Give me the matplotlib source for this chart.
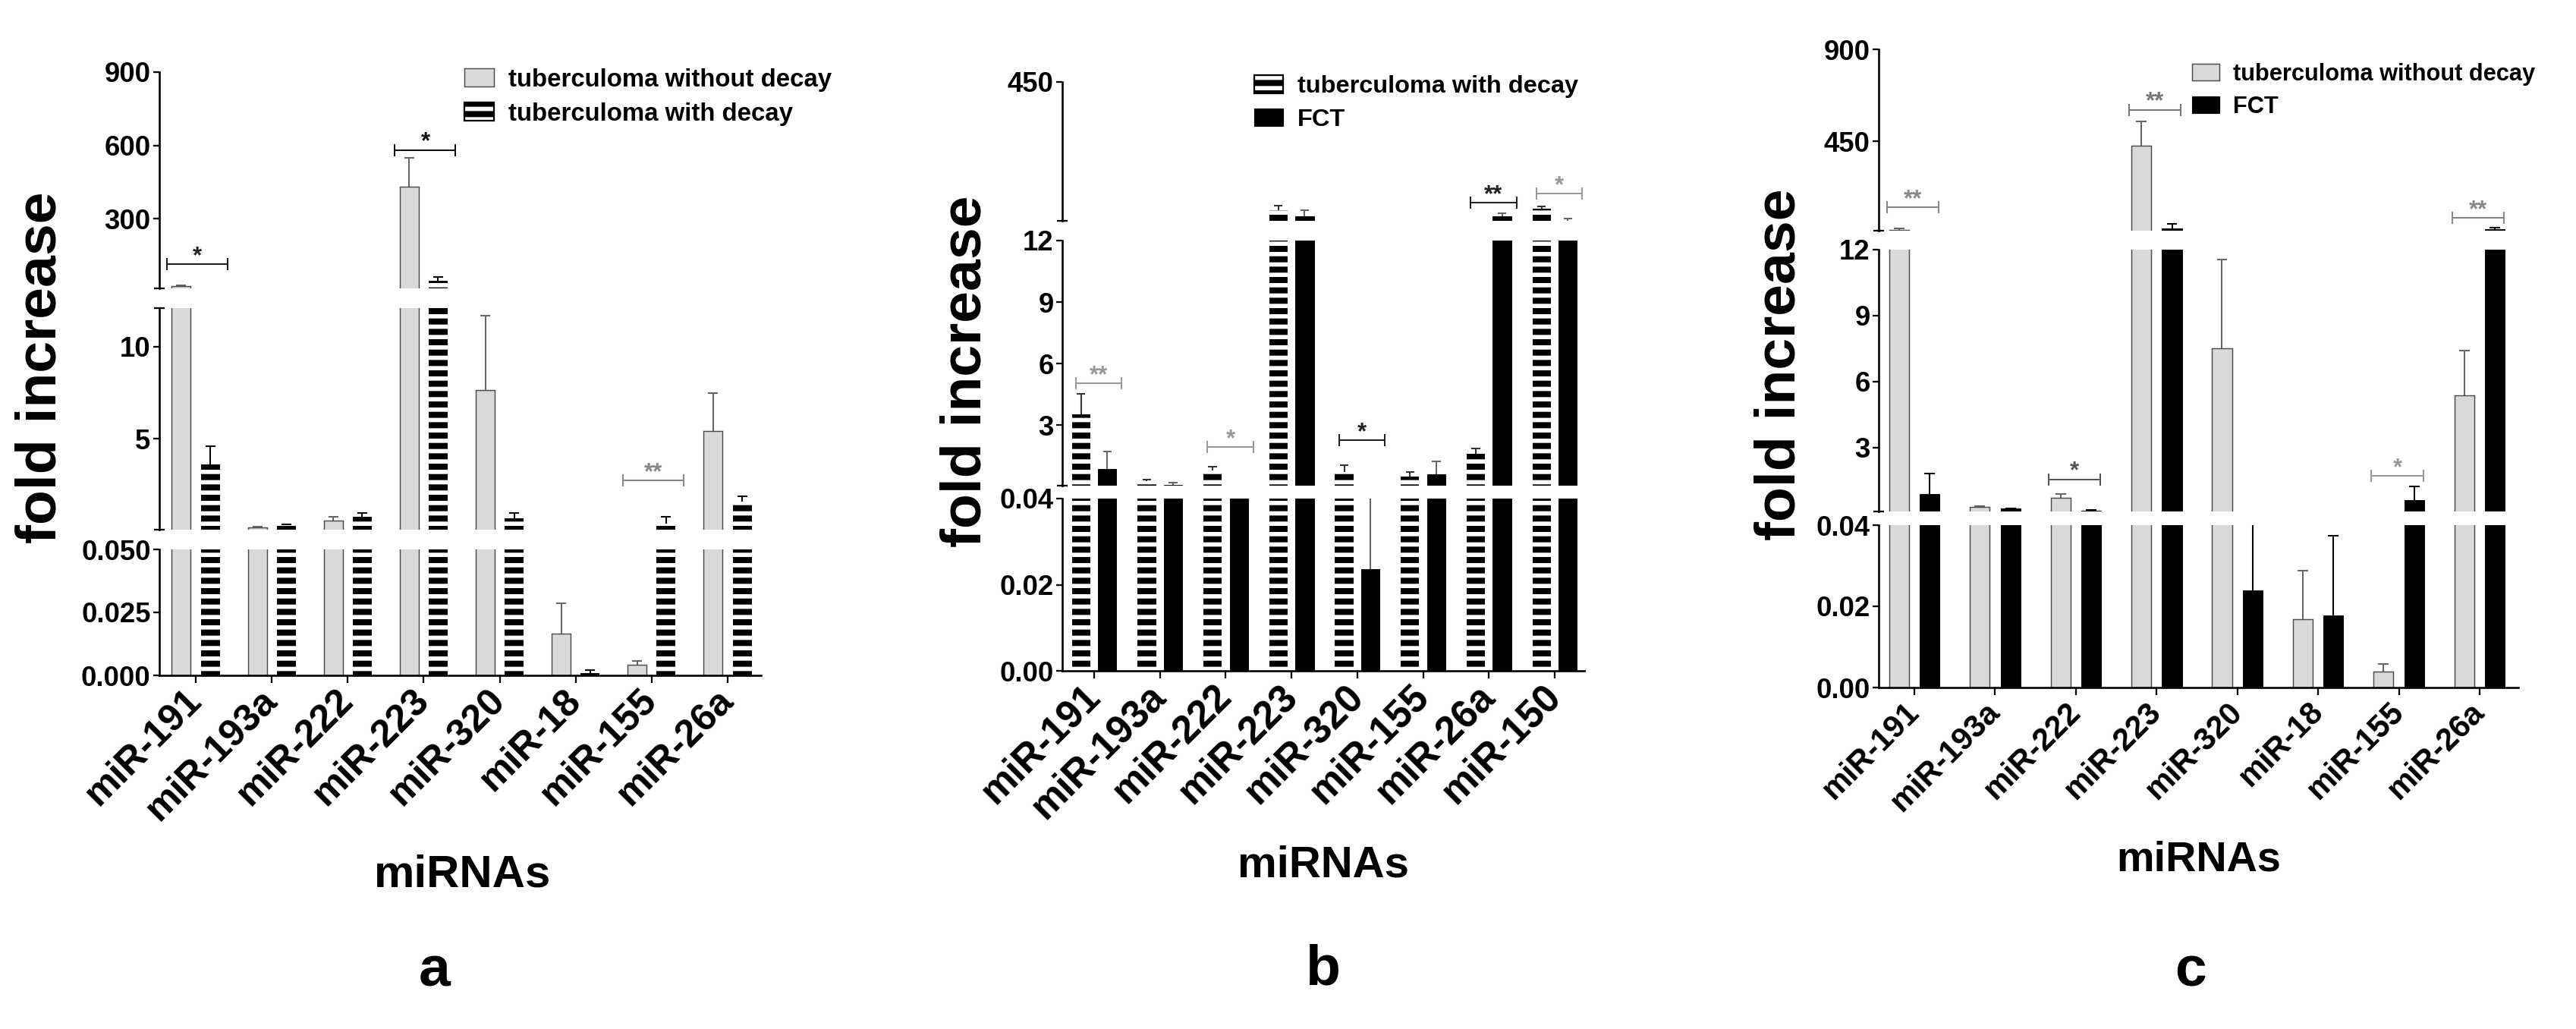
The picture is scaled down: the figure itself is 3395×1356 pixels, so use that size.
import matplotlib
matplotlib.use("Agg")
import matplotlib.pyplot as plt
import numpy as np
from matplotlib.patches import Patch

# ---------------- data ----------------
mirnas_ac = ["miR-191", "miR-193a", "miR-222", "miR-223", "miR-320", "miR-18", "miR-155", "miR-26a"]
mirnas_b = ["miR-191", "miR-193a", "miR-222", "miR-223", "miR-320", "miR-155", "miR-26a", "miR-150"]

# panel a: tuberculoma without decay vs with decay
a_without = [24, 0.18, 0.54, 431, 7.63, 0.0167, 0.0042, 5.4]
a_without_err = [3, 0.03, 0.22, 118, 4.06, 0.0119, 0.0015, 2.08]
a_decay = [3.6, 0.29, 0.76, 46, 0.65, 0.0008, 0.40, 1.58]
a_decay_err = [0.97, 0.05, 0.21, 16, 0.32, 0.0013, 0.36, 0.29]

# panel b: tuberculoma with decay vs FCT
b_decay = [3.51, 0.29, 0.80, 45, 0.70, 0.48, 1.6, 50]
b_decay_err = [1.02, 0.04, 0.19, 14, 0.35, 0.25, 0.28, 7]
b_fct = [0.86, 0.07, 0.06, 26, 0.0237, 0.61, 26, 13]
b_fct_err = [0.86, 0.12, 0.0, 19, 0.021, 0.63, 9, 6]

# panel c: tuberculoma without decay vs FCT
c_without = [17, 0.29, 0.71, 428, 7.53, 0.0169, 0.004, 5.37]
c_without_err = [5, 0.04, 0.17, 119, 4.02, 0.0118, 0.0018, 2.03]
c_fct = [0.91, 0.23, 0.14, 23, 0.0239, 0.0177, 0.62, 20]
c_fct_err = [0.93, 0.02, 0.02, 22, 0.021, 0.0197, 0.62, 7]

# significance brackets: (group index, segment, y value, label)
a_sig = [(0, 0, 114, "*"), (3, 0, 581, "*"), (6, 1, 2.73, "**")]
b_sig = [(0, 1, 5.04, "**"), (2, 1, 1.93, "*"), (4, 1, 2.26, "*"), (6, 0, 69, "**"), (7, 0, 98, "*")]
c_sig = [(0, 0, 127, "**"), (3, 0, 603, "**"), (2, 1, 1.55, "*"), (6, 1, 1.72, "*"), (7, 0, 75, "**")]

# ---------------- style ----------------
DPI = 82
W, H = 3395, 1356
plt.rcParams["font.family"] = ["Liberation Sans", "DejaVu Sans"]
plt.rcParams["font.weight"] = "bold"
plt.rcParams["hatch.linewidth"] = 5.0
plt.rcParams["hatch.color"] = "white"

GRAY = "#d9d9d9"
GRAY_EDGE = "#4d4d4d"

fig = plt.figure(figsize=(W / DPI, H / DPI), dpi=DPI)


def px_axes(left, right, top, bottom):
    return fig.add_axes([left / W, 1 - bottom / H, (right - left) / W, (bottom - top) / H])


def draw_bars(ax, xs, vals, errs, kind, width, ecolor, cap, ylim):
    vals = np.asarray(vals, float)
    errs = np.asarray(errs, float)
    if kind == "gray":
        ax.bar(xs, vals, width, color=GRAY, edgecolor=GRAY_EDGE, linewidth=1.3, zorder=2)
    elif kind == "striped":
        ax.bar(xs, vals, width, color="black", edgecolor="white", hatch="-", linewidth=0, zorder=2)
    else:
        ax.bar(xs, vals, width, color="black", edgecolor="black", linewidth=0.8, zorder=2)
    m = errs > 0
    tops = vals + errs
    lo, hi = ylim
    span = hi - lo
    mv = m & (tops > lo)
    vl = ax.vlines(xs[mv], vals[mv], tops[mv], color=ecolor, lw=1.8, zorder=1)
    vl.set_capstyle("butt")
    mc = m & (tops > lo + 0.004 * span) & (tops < hi - 0.004 * span)
    hl = ax.hlines(tops[mc], xs[mc] - cap, xs[mc] + cap, color=ecolor, lw=1.8, zorder=1)
    hl.set_capstyle("butt")


def draw_panel(cats, series, xspan, first_tick, last_tick, segments, width, off,
               xlab_fs, sig, sig_dx, sig_colors):
    left, right = xspan
    n = len(cats)
    sp = (last_tick - first_tick) / (n - 1)
    xlim = (-(first_tick - left) / sp, n - 1 + (right - last_tick) / sp)
    x = np.arange(n)
    axes = []
    for i, seg in enumerate(segments):
        ax = px_axes(left, right, seg["top"], seg["bottom"])
        ax.set_xlim(*xlim)
        ax.set_ylim(*seg["ylim"])
        for k, s in enumerate(series):
            xs = x + (off if k else -off)
            draw_bars(ax, xs, s["v"], s["e"], s["kind"], width, s["ec"], 0.065, seg["ylim"])
        ax.spines[["top", "right"]].set_visible(False)
        ax.spines["left"].set_linewidth(2.3)
        ax.spines["bottom"].set_linewidth(2.3)
        ax.set_yticks(seg["ticks"])
        ax.set_yticklabels(seg["labels"], fontsize=32, fontweight="bold")
        ax.set_yticks(list(seg["ylim"]), minor=True)
        ax.tick_params(axis="y", which="major", direction="out", length=7, width=2.0, pad=3)
        ax.tick_params(axis="y", which="minor", direction="inout", length=12, width=2.0)
        if i < len(segments) - 1:
            ax.spines["bottom"].set_visible(False)
            ax.tick_params(axis="x", which="both", bottom=False, labelbottom=False)
        else:
            ax.set_xticks(x)
            ax.set_xticklabels(cats, rotation=45, ha="right", va="center",
                               rotation_mode="anchor", fontsize=xlab_fs, fontweight="bold")
            ax.tick_params(axis="x", direction="out", length=9, width=2.0, pad=14)
        ax.patch.set_alpha(0)
        axes.append(ax)
    for (gi, si, yv, lab), col in zip(sig, sig_colors):
        ax = axes[si]
        x0, x1 = gi + sig_dx[0], gi + sig_dx[1]
        ax.plot([x0, x1], [yv, yv], color=col, lw=1.8, marker="|", markersize=14,
                markeredgewidth=1.8, clip_on=False, zorder=3)
        ax.annotate(lab, ((x0 + x1) / 2, yv), xytext=(0, 9), textcoords="offset points",
                    ha="center", va="center", fontsize=27, fontweight="bold", color=col,
                    annotation_clip=False)
    return axes


# ---------------- panel a ----------------
draw_panel(
    mirnas_ac,
    [dict(v=a_without, e=a_without_err, kind="gray", ec="#666666"),
     dict(v=a_decay, e=a_decay_err, kind="striped", ec="black")],
    (210, 1003), 258, 959,
    [dict(top=95, bottom=380, ylim=(15, 900), ticks=[300, 600, 900], labels=["300", "600", "900"]),
     dict(top=406, bottom=698, ylim=(0.05, 12.1), ticks=[5, 10], labels=["5", "10"]),
     dict(top=724, bottom=890, ylim=(0, 0.05), ticks=[0, 0.025, 0.05], labels=["0.000", "0.025", "0.050"])],
    0.25, 0.19, 44, a_sig, (-0.38, 0.42), ["#222222", "#111111", "#888888"])

# ---------------- panel b ----------------
draw_panel(
    mirnas_b,
    [dict(v=b_decay, e=b_decay_err, kind="striped", ec="#333333"),
     dict(v=b_fct, e=b_fct_err, kind="black", ec="#666666")],
    (1400, 2088), 1442, 2049,
    [dict(top=108, bottom=291, ylim=(12, 450), ticks=[450], labels=["450"]),
     dict(top=317, bottom=640, ylim=(0.05, 12), ticks=[3, 6, 9, 12], labels=["3", "6", "9", "12"]),
     dict(top=657, bottom=884, ylim=(0, 0.04), ticks=[0, 0.02, 0.04], labels=["0.00", "0.02", "0.04"])],
    0.28, 0.2, 45, b_sig, (-0.28, 0.42), ["#999999", "#999999", "#222222", "#222222", "#999999"])

# ---------------- panel c ----------------
draw_panel(
    mirnas_ac,
    [dict(v=c_without, e=c_without_err, kind="gray", ec="#666666"),
     dict(v=c_fct, e=c_fct_err, kind="black", ec="black")],
    (2476, 3319), 2523, 3268,
    [dict(top=65, bottom=304, ylim=(12, 900), ticks=[450, 900], labels=["450", "900"]),
     dict(top=329, bottom=674, ylim=(0.1, 12), ticks=[3, 6, 9, 12], labels=["3", "6", "9", "12"]),
     dict(top=692, bottom=906, ylim=(0, 0.04), ticks=[0, 0.02, 0.04], labels=["0.00", "0.02", "0.04"])],
    0.245, 0.19, 36.5, c_sig, (-0.34, 0.3), ["#888888", "#777777", "#555555", "#999999", "#888888"])

# ---------------- legends ----------------
h_gray = Patch(facecolor=GRAY, edgecolor=GRAY_EDGE, linewidth=1.3)
h_striped = (Patch(facecolor="black", edgecolor="white", hatch="-", linewidth=0),
             Patch(fill=False, edgecolor="black", linewidth=2.0))
h_black = Patch(facecolor="black", edgecolor="black")


def add_legend(handles, labels, x, y, fs):
    fig.legend(handles, labels, loc="upper left", bbox_to_anchor=(x / W, 1 - y / H),
               frameon=False, prop=dict(size=fs, weight="bold"), handlelength=1.17,
               handleheight=0.74, handletextpad=0.58, labelspacing=0.42, borderpad=0,
               borderaxespad=0)


add_legend([h_gray, h_striped], ["tuberculoma without decay", "tuberculoma with decay"], 612, 90, 29)
add_legend([h_striped, h_black], ["tuberculoma with decay", "FCT"], 1653, 99, 28.5)
add_legend([h_gray, h_black], ["tuberculoma without decay", "FCT"], 2889, 83, 27)

# ---------------- labels ----------------
for (xc, yc) in [(54, 484), (1273, 489), (2346, 480)]:
    fig.text(xc / W, 1 - yc / H, "fold increase", rotation=90, ha="center", va="center",
             fontsize=66, fontweight="bold")
for (xc, yc, fs) in [(610, 1153, 52.7), (1744, 1140, 51), (2898, 1133, 49)]:
    fig.text(xc / W, 1 - yc / H, "miRNAs", ha="center", va="center", fontsize=fs, fontweight="bold")
for (xc, yc, t) in [(573, 1280, "a"), (1743, 1278, "b"), (2887, 1280, "c")]:
    fig.text(xc / W, 1 - yc / H, t, ha="center", va="center", fontsize=66, fontweight="bold")

fig.savefig("out.png", dpi=DPI, facecolor="white")
